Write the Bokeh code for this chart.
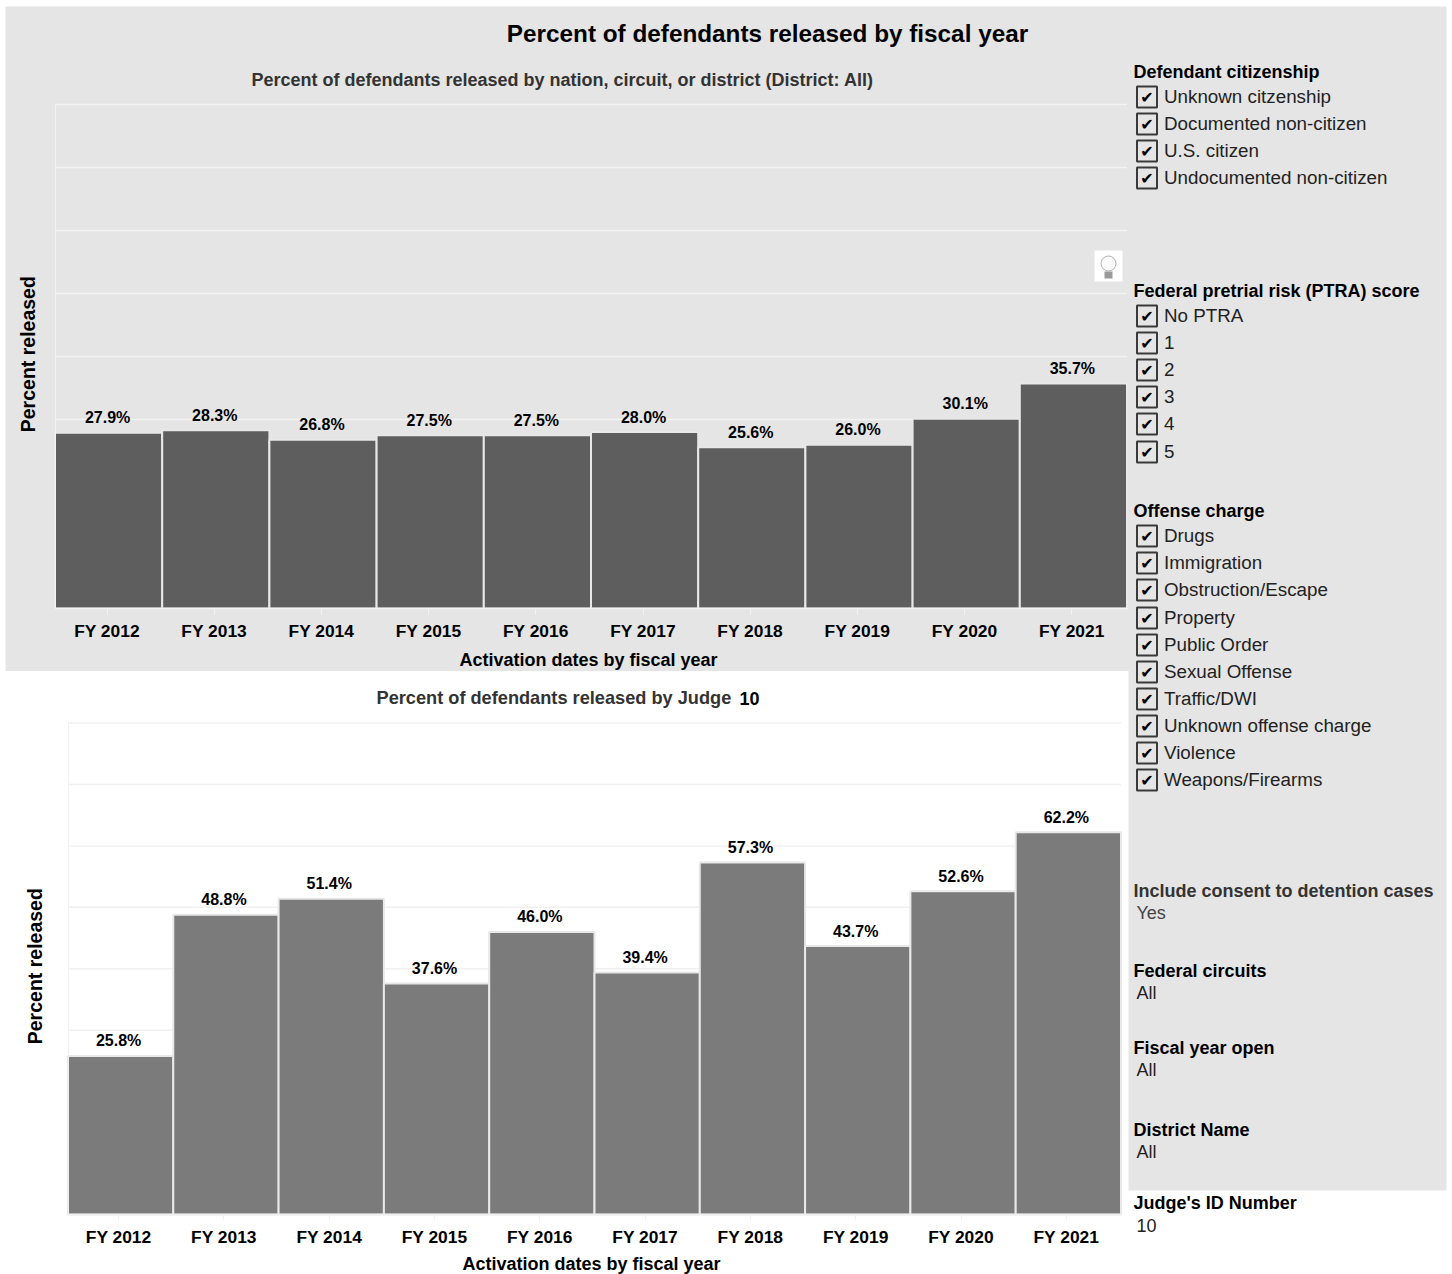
import math

from bokeh.embed import file_html
from bokeh.resources import INLINE
from bokeh.layouts import row, column
from bokeh.plotting import figure
from bokeh.models import ColumnDataSource, FixedTicker, Label, Range1d
from bokeh.core.properties import value

# Chart values
fiscal_years = ["FY 2012", "FY 2013", "FY 2014", "FY 2015", "FY 2016",
                "FY 2017", "FY 2018", "FY 2019", "FY 2020", "FY 2021"]
district_rates = [27.9, 28.3, 26.8, 27.5, 27.5, 28.0, 25.6, 26.0, 30.1, 35.7]
judge_rates = [25.8, 48.8, 51.4, 37.6, 46.0, 39.4, 57.3, 43.7, 52.6, 62.2]
grid_percents = [10, 20, 30, 40, 50, 60, 70, 80]

# Filter panel contents
citizenship = ["Unknown citzenship", "Documented non-citizen", "U.S. citizen",
               "Undocumented non-citizen"]
ptra_scores = ["No PTRA", "1", "2", "3", "4", "5"]
offense_charges = ["Drugs", "Immigration", "Obstruction/Escape", "Property",
                   "Public Order", "Sexual Offense", "Traffic/DWI",
                   "Unknown offense charge", "Violence", "Weapons/Firearms"]

FONT = "Liberation Sans"
PANEL = "#e5e5e5"


def label(p, x, y, text, size, color="#000000", bold=True, align="left", angle=0):
    p.add_layout(Label(x=x, y=y - 0.3, text=text, text_font=FONT,
                       text_font_size=f"{size}px",
                       text_font_style="bold" if bold else "normal",
                       text_color=color, text_align=align,
                       text_baseline="middle", angle=angle,
                       x_range_name="page_x", y_range_name="page_y"))


def bar_panel(values, canvas, plot, fill, background, grid, margin, nudge, tick_shift):
    """Bar chart whose frame fills the canvas; the axes sit at fixed data locations."""
    c_left, c_right, c_top, c_bottom = canvas
    f_left, f_right, f_top, f_bottom = plot
    count = len(fiscal_years)
    centers = [i + 0.5 for i in range(count)]
    x_px = (f_right - f_left) / count
    y_px = (f_bottom - f_top) / grid_percents[-1]

    p = figure(width=c_right - c_left, height=c_bottom - c_top,
               output_backend="svg", toolbar_location=None,
               x_range=Range1d(-(f_left - c_left) / x_px, count + (c_right - f_right) / x_px),
               y_range=Range1d(-(c_bottom - f_bottom) / y_px,
                               grid_percents[-1] + (f_top - c_top) / y_px),
               min_border=0, background_fill_color=background,
               border_fill_color=background, outline_line_color=None, margin=margin)
    p.extra_x_ranges["page_x"] = Range1d(c_left, c_right)
    p.extra_y_ranges["page_y"] = Range1d(c_bottom, c_top)
    p.xgrid.visible = False
    p.ygrid.visible = False

    # Horizontal rules stop at the ends of the value scale
    p.segment(x0=[0] * len(grid_percents), x1=[count] * len(grid_percents),
              y0=grid_percents, y1=grid_percents, line_color=grid, line_width=1.5)

    source = ColumnDataSource(dict(
        slot=centers, rate=values, text=[f"{v:.1f}%" for v in values]))
    p.vbar(x="slot", top="rate", width=1, source=source, fill_color=fill,
           line_color="#e8e8e8", line_width=2)
    p.text(x="slot", y="rate", text="text", source=source, text_font=value(FONT),
           text_font_size="16px", text_font_style="bold", text_color="#000000",
           text_align="center", text_baseline="middle", x_offset=nudge, y_offset=-15)

    # Year labels sit slightly left of the bar centres
    tick_spots = [c - tick_shift / x_px for c in centers]
    xa = p.xaxis[0]
    xa.fixed_location = 0
    xa.bounds = (0, count)
    xa.ticker = FixedTicker(ticks=tick_spots)
    xa.major_label_overrides = dict(zip(tick_spots, fiscal_years))
    xa.axis_line_color = grid
    xa.axis_line_width = 1.5
    xa.major_tick_line_color = grid
    xa.major_tick_out = 6
    xa.major_tick_in = 0
    xa.minor_tick_line_color = None
    xa.major_label_text_font = FONT
    xa.major_label_text_font_style = "bold"
    xa.major_label_text_font_size = "17.4px"
    xa.major_label_text_color = "#000000"
    xa.major_label_standoff = 6

    ya = p.yaxis[0]
    ya.fixed_location = 0
    ya.bounds = (0, grid_percents[-1])
    ya.ticker = FixedTicker(ticks=[])
    ya.axis_line_color = grid
    ya.major_tick_line_color = None
    ya.minor_tick_line_color = None
    return p


# Upper panel: all districts
top = bar_panel(district_rates, (5, 1129, 6, 671), (54.5, 1126.5, 104, 608),
                "#5e5e5e", PANEL, "#f3f3f3", (6, 0, 0, 5), -1, 1.6)
label(top, 767, 33, "Percent of defendants released by fiscal year", 24.3, align="center")
label(top, 562, 80, "Percent of defendants released by nation, circuit, or district (District: All)",
      18, color="#333333", align="center")
label(top, 588, 660, "Activation dates by fiscal year", 18, align="center")
label(top, 27, 354, "Percent released", 19.5, align="center", angle=math.pi / 2)

# Tip icon in the upper panel
top.quad(left=[1094], right=[1122], top=[250], bottom=[281], fill_color="#ffffff",
         line_color=None, x_range_name="page_x", y_range_name="page_y")
top.scatter(x=[1108], y=[263], size=15, fill_color="#fbfbfb", line_color="#b0b0b0",
            x_range_name="page_x", y_range_name="page_y")
top.quad(left=[1104], right=[1112], top=[271], bottom=[278], fill_color="#9a9a9a",
         line_color=None, x_range_name="page_x", y_range_name="page_y")

# Lower panel: the selected judge
bottom = bar_panel(judge_rates, (0, 1129, 671, 1274), (67.5, 1120.5, 722.5, 1214),
                   "#7b7b7b", "#ffffff", "#f0f0f0", (0, 0, 0, 0), -2, 2)
label(bottom, 376, 698, "Percent of defendants released by Judge", 18.2, color="#333333")
label(bottom, 739, 698, "10", 18)
label(bottom, 591, 1264, "Activation dates by fiscal year", 18, align="center")
label(bottom, 34, 966, "Percent released", 19.5, align="center", angle=math.pi / 2)

# Filter column on the right, drawn in page pixels over a transparent canvas
side = figure(width=324, height=1274, output_backend="svg", toolbar_location=None,
              x_range=Range1d(1128, 1452), y_range=Range1d(1274, 0),
              min_border=0, outline_line_color=None, background_fill_color=None,
              border_fill_color=None, margin=(0, 0, 0, -1))
side.xaxis.visible = False
side.yaxis.visible = False
side.grid.visible = False
side.extra_x_ranges["page_x"] = Range1d(1128, 1452)
side.extra_y_ranges["page_y"] = Range1d(1274, 0)
side.quad(left=[1120], right=[1446], top=[6], bottom=[1190], fill_color=PANEL, line_color=None)


def checklist(heading, heading_y, items, item_ys):
    label(side, 1133, heading_y, heading, 18)
    for text, y in zip(items, item_ys):
        side.quad(left=[1136.5], right=[1156.5], top=[y - 10], bottom=[y + 11],
                  fill_color=PANEL, line_color="#3a3a3a", line_width=2)
        side.add_layout(Label(x=1146.5, y=y + 0.5, text="\u2714", text_font="DejaVu Sans",
                              text_font_size="16px", text_font_style="bold",
                              text_color="#000000", text_align="center",
                              text_baseline="middle"))
        label(side, 1163.5, y, text, 18.8, color="#222222", bold=False)


checklist("Defendant citizenship", 72, citizenship, [96, 123, 150, 177])
checklist("Federal pretrial risk (PTRA) score", 291, ptra_scores,
          [315, 342, 369, 396, 423, 451])
checklist("Offense charge", 511, offense_charges,
          [535, 562, 589, 617, 644, 671, 698, 725, 752, 779])

label(side, 1133, 891, "Include consent to detention cases", 18, color="#333333")
label(side, 1136, 913, "Yes", 18, color="#444444", bold=False)
label(side, 1133, 971, "Federal circuits", 18)
label(side, 1136, 993, "All", 18, color="#222222", bold=False)
label(side, 1133, 1048, "Fiscal year open", 18)
label(side, 1136, 1070, "All", 18, color="#222222", bold=False)
label(side, 1133, 1130, "District Name", 18)
label(side, 1136, 1152, "All", 18, color="#222222", bold=False)
label(side, 1133, 1203, "Judge's ID Number", 18)
label(side, 1136, 1225, "10", 18, color="#222222", bold=False)

page = row(column(top, bottom, spacing=0), side, spacing=0)
open("out.html", "w").write(file_html(page, INLINE))
